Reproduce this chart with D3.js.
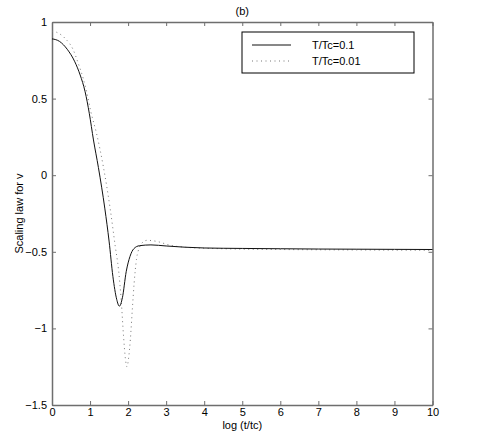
<!DOCTYPE html>
<html>
<head>
<meta charset="utf-8">
<script src="https://cdn.jsdelivr.net/npm/d3@7"></script>
<style>
  body { margin: 0; background: #fff; }
  svg text { font-family: "Liberation Sans", Arial, sans-serif; font-size: 11px; fill: #000; }
</style>
</head>
<body>
<div class="chart"></div>
<script>
// T/Tc = 0.1 (solid)
const xSolid = [0, 0.2, 0.4, 0.6, 0.74, 0.87, 0.98, 1.09, 1.22, 1.39, 1.5, 1.6, 1.7, 1.77, 1.85, 1.95, 2.05, 2.15, 2.3, 2.6, 3.0, 3.5, 4.0, 5, 6, 7, 8, 9, 10];
const ySolid = [0.89, 0.873, 0.822, 0.74, 0.654, 0.545, 0.404, 0.23, 0.05, -0.22, -0.43, -0.66, -0.81, -0.855, -0.80, -0.63, -0.53, -0.48, -0.46, -0.455, -0.462, -0.47, -0.475, -0.478, -0.48, -0.482, -0.483, -0.484, -0.485];

// T/Tc = 0.01 (dotted)
const xDotted = [0, 0.12, 0.34, 0.56, 0.69, 0.82, 0.91, 1.02, 1.17, 1.35, 1.53, 1.66, 1.75, 1.82, 1.88, 1.93, 1.97, 2.01, 2.06, 2.11, 2.16, 2.22, 2.3, 2.4, 2.5, 2.75, 3.1, 3.6, 4.5, 6, 8, 10];
const yDotted = [0.94, 0.933, 0.894, 0.817, 0.73, 0.632, 0.545, 0.415, 0.273, 0.055, -0.22, -0.46, -0.62, -0.82, -1.05, -1.2, -1.25, -1.2, -1.07, -0.88, -0.7, -0.55, -0.47, -0.435, -0.425, -0.432, -0.457, -0.472, -0.48, -0.485, -0.488, -0.49];

const xTicks = [0, 1, 2, 3, 4, 5, 6, 7, 8, 9, 10];
const yTicks = [-1.5, -1, -0.5, 0, 0.5, 1];
const legendLabels = ["T/Tc=0.1", "T/Tc=0.01"];

const w = 488, h = 432;
const mLeft = 52, mRight = 432.5, mTop = 22, mBottom = 405;

const x = d3.scaleLinear().domain([0, 10]).range([mLeft, mRight]);
const y = d3.scaleLinear().domain([-1.5, 1]).range([mBottom, mTop]);

const svg = d3.select(".chart").append("svg")
  .attr("width", w).attr("height", h);

const fmt = d => d3.format("")(d);

/* axes: ticks inward on all four sides */
const axisColor = "#6e6e6e";
const gx = svg.append("g").attr("transform", `translate(0,${mBottom})`)
  .call(d3.axisBottom(x).tickValues(xTicks).tickSizeInner(-4).tickSizeOuter(0).tickPadding(3).tickFormat(fmt));
const gxTop = svg.append("g").attr("transform", `translate(0,${mTop})`)
  .call(d3.axisTop(x).tickValues(xTicks).tickSizeInner(-4).tickSizeOuter(0).tickFormat(""));
const gy = svg.append("g").attr("transform", `translate(${mLeft},0)`)
  .call(d3.axisLeft(y).tickValues(yTicks).tickSizeInner(-4).tickSizeOuter(0).tickPadding(5).tickFormat(fmt));
const gyRight = svg.append("g").attr("transform", `translate(${mRight},0)`)
  .call(d3.axisRight(y).tickValues(yTicks).tickSizeInner(-4).tickSizeOuter(0).tickFormat(""));

[gx, gxTop, gy, gyRight].forEach(g => {
  g.select(".domain").attr("stroke", axisColor).attr("stroke-width", 1.5);
  g.selectAll(".tick line").attr("stroke", axisColor).attr("stroke-width", 1);
  g.selectAll("text").attr("font-size", "11px").attr("font-family", "Liberation Sans, Arial, sans-serif").attr("fill", "#000");
});

/* curves */
const line = d3.line()
  .x(d => x(d[0]))
  .y(d => y(d[1]))
  .curve(d3.curveMonotoneX);

svg.append("path")
  .datum(xDotted.map((v, i) => [v, yDotted[i]]))
  .attr("d", line)
  .attr("fill", "none")
  .attr("stroke", "#777")
  .attr("stroke-width", 1)
  .attr("stroke-dasharray", "1,3.5");

svg.append("path")
  .datum(xSolid.map((v, i) => [v, ySolid[i]]))
  .attr("d", line)
  .attr("fill", "none")
  .attr("stroke", "#111")
  .attr("stroke-width", 1);

/* title and labels */
svg.append("text").attr("x", (mLeft + mRight) / 2).attr("y", 15)
  .attr("text-anchor", "middle").text("(b)");
svg.append("text").attr("x", (mLeft + mRight) / 2).attr("y", 429)
  .attr("text-anchor", "middle").text("log (t/tc)");
svg.append("text")
  .attr("transform", `translate(23,${(mTop + mBottom) / 2}) rotate(-90)`)
  .attr("text-anchor", "middle").text("Scaling law for v");

/* legend */
const legend = svg.append("g");
legend.append("rect")
  .attr("x", 242).attr("y", 32).attr("width", 172).attr("height", 41)
  .attr("fill", "#fff").attr("stroke", "#000").attr("stroke-width", 1);
const styles = [{ stroke: "#111", dash: null }, { stroke: "#777", dash: "1,3.5" }];
legendLabels.forEach((lab, i) => {
  const yy = 45 + i * 16;
  legend.append("line")
    .attr("x1", 252).attr("x2", 291).attr("y1", yy).attr("y2", yy)
    .attr("stroke", styles[i].stroke).attr("stroke-width", 1)
    .attr("stroke-dasharray", styles[i].dash);
  legend.append("text").attr("x", 312).attr("y", yy + 4).text(lab);
});
</script>
</body>
</html>
